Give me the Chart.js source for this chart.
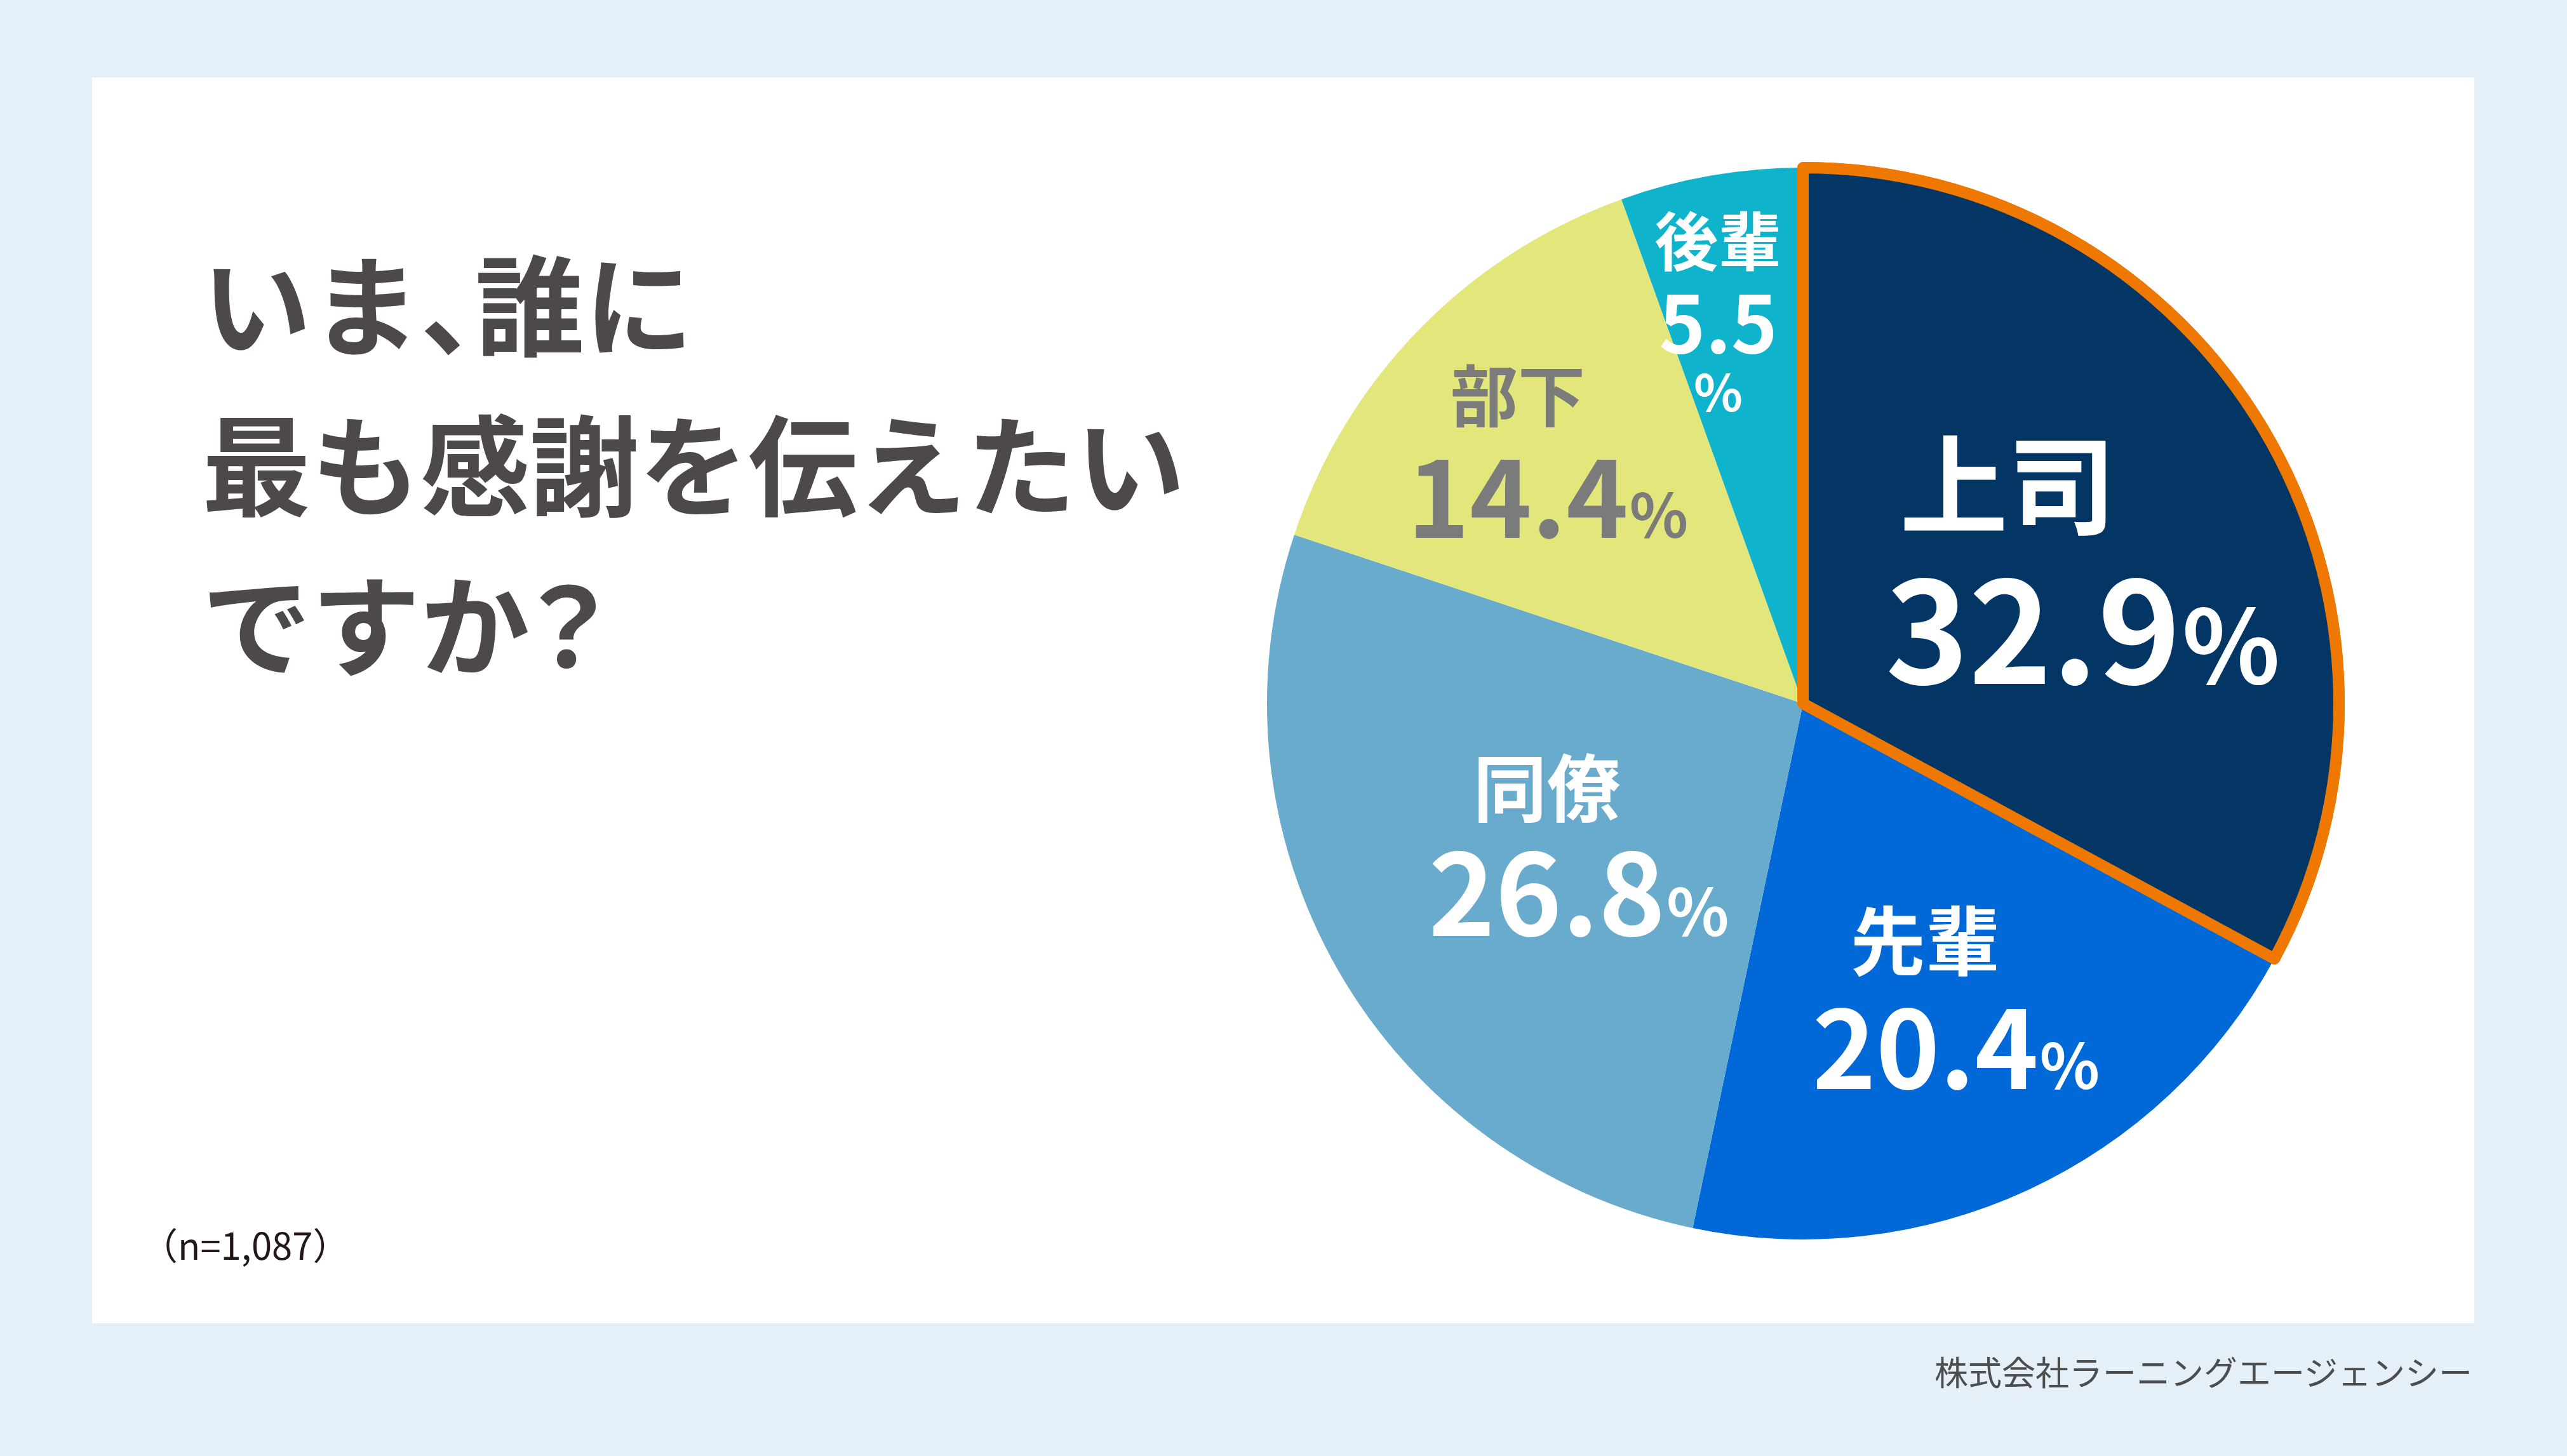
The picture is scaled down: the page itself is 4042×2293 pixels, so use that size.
<!DOCTYPE html>
<html lang="ja">
<head>
<meta charset="utf-8">
<script src="https://cdn.jsdelivr.net/npm/chart.js@4.4.1/dist/chart.umd.min.js"></script>
<style>
  html, body { margin: 0; padding: 0; }
  body {
    width: 4042px; height: 2293px; position: relative; overflow: hidden;
    background: #e4eff7;
    font-family: "Noto Sans CJK JP", "Noto Sans", sans-serif;
  }
  #card { position: absolute; left: 145px; top: 122px; width: 3751px; height: 1962px; background: #fff; }
  #title {
    position: absolute; left: 318px; top: 346px;
    font-size: 172px; line-height: 252px; font-weight: 700; color: #4d4949;
    white-space: nowrap;
  }
  #title .h { font-feature-settings: "halt"; }
  #title .q { margin-left: -26px; }
  #note { position: absolute; left: 222px; top: 1920px; font-size: 58px; line-height: 78px; color: #231815; }
  #credit { position: absolute; right: 149px; top: 2122px; font-size: 53px; line-height: 74px; color: #4d4d4d; }
  #pieBox { position: absolute; left: 1986px; top: 255px; width: 1706px; height: 1706px; }
</style>
</head>
<body>
<div id="card"></div>
<div id="title">いま<span class="h">、</span>誰に<br>最も感謝を伝えたい<br>ですか<span class="q">？</span></div>
<div id="note">（n=1,087）</div>
<div id="credit">株式会社ラーニングエージェンシー</div>
<div id="pieBox"><canvas id="myPieChart"></canvas></div>

<script>
// 回答データ
const categories = ['上司', '先輩', '同僚', '部下', '後輩'];
const shares = [32.9, 20.4, 26.8, 14.4, 5.5];
const sliceColors = ['#033664', '#0068d7', '#68abcd', '#e3e67a', '#10b3cc'];

// ラベルの見た目 (半径比・ずらし・フォントサイズ・上下オフセット)
const labelStyle = [
    { r: 0.50, dx: 0, dy: -4, name: 170, nameDx: -40, num: 222, pct: 160, nameDy: -124, numDy: 108, color: '#ffffff' },
    { r: 0.60, dx: -20, dy: 0, name: 118, nameDx: 0, num: 170, pct: 98, nameDy: -85, numDy: 85, color: '#ffffff' },
    { r: 0.54, dx: -8, dy: -10, name: 116, nameDx: 0, num: 178, pct: 102, nameDy: -84, numDy: 84, color: '#ffffff' },
    { r: 0.71, dx: -20, dy: 15, name: 106, nameDx: 0, num: 166, pct: 96, nameDy: -82, numDy: 82, color: '#7b7b7b' },
    { r: 0.74, dx: -26, dy: 8, name: 100, nameDx: 0, num: 124, pct: 80, nameDy: -121, numDy: 10, pctDy: 117, color: '#ffffff' }
];
const FONT = '"Noto Sans CJK JP", "Noto Sans", sans-serif';

const sliceLabels = {
    id: 'sliceLabels',
    afterDatasetsDraw(chart) {
        const ctx = chart.ctx;
        const meta = chart.getDatasetMeta(0);
        // 上司のオレンジ枠を隣の扇形の上に描き直す
        meta.data[0].draw(ctx);

        meta.data.forEach((arc, i) => {
            const p = arc.getProps(['x', 'y', 'startAngle', 'endAngle', 'outerRadius'], true);
            const s = labelStyle[i];
            const mid = (p.startAngle + p.endAngle) / 2;
            const cx = p.x + Math.cos(mid) * p.outerRadius * s.r + s.dx;
            const cy = p.y + Math.sin(mid) * p.outerRadius * s.r + s.dy;

            ctx.save();
            ctx.fillStyle = s.color;
            ctx.textAlign = 'center';
            ctx.textBaseline = 'middle';
            ctx.font = '700 ' + s.name + 'px ' + FONT;
            ctx.fillText(categories[i], cx + s.nameDx, cy + s.nameDy);

            const numText = shares[i].toFixed(1);
            const base = cy + s.numDy + s.num * 0.365;
            ctx.textBaseline = 'alphabetic';
            ctx.font = '700 ' + s.num + 'px ' + FONT;
            ctx.fillText(numText, cx, base);
            if (s.pctDy !== undefined) {
                ctx.font = '700 ' + s.pct + 'px ' + FONT;
                ctx.textBaseline = 'middle';
                ctx.fillText('%', cx, cy + s.pctDy);
            } else {
                const w = ctx.measureText(numText).width;
                ctx.font = '700 ' + s.pct + 'px ' + FONT;
                ctx.textAlign = 'left';
                ctx.fillText('%', cx + w / 2 + 2, base);
            }
            ctx.restore();
        });
    }
};

new Chart(document.getElementById('myPieChart'), {
    type: 'pie',
    data: {
        labels: categories,
        datasets: [{
            data: shares,
            backgroundColor: sliceColors,
            borderColor: ['#ee7800', 'rgba(0,0,0,0)', 'rgba(0,0,0,0)', 'rgba(0,0,0,0)', 'rgba(0,0,0,0)'],
            borderWidth: [18, 0, 0, 0, 0],
            borderJoinStyle: 'round',
            hoverOffset: 0
        }]
    },
    options: {
        responsive: true,
        maintainAspectRatio: false,
        animation: false,
        events: [],
        plugins: {
            legend: { display: false },
            tooltip: { enabled: false }
        }
    },
    plugins: [sliceLabels]
});
</script>
</body>
</html>
